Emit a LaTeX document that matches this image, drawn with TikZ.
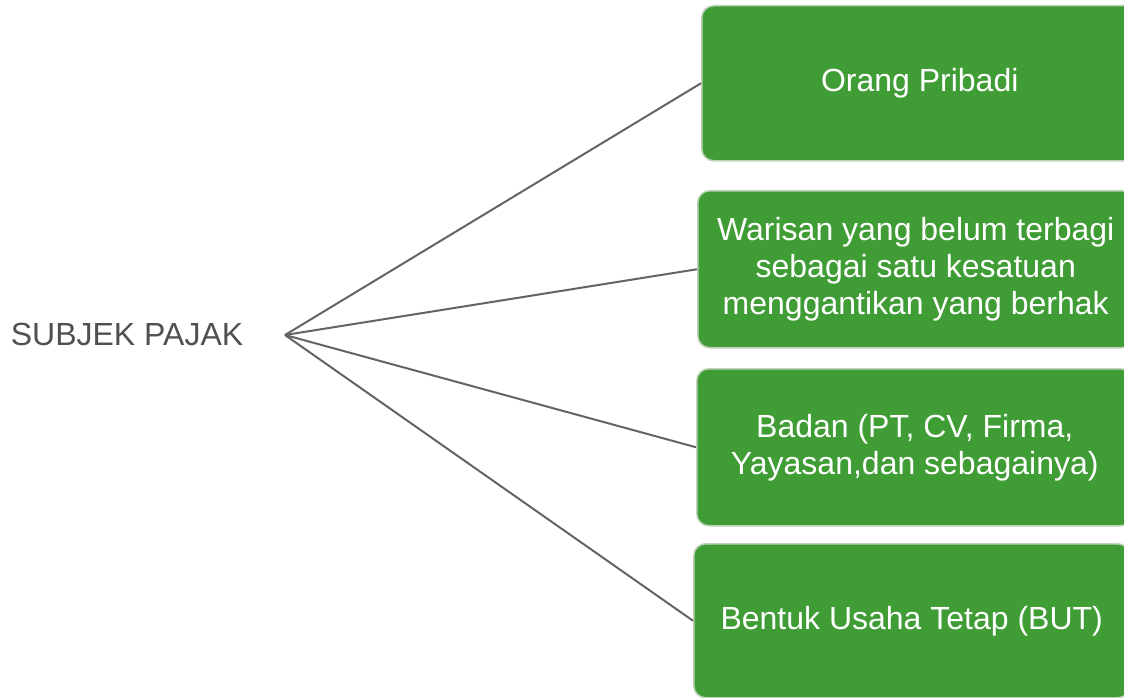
\documentclass[tikz,border=0pt]{standalone}
\usepackage{fontspec}
\setmainfont{Liberation Sans}
\definecolor{boxgreen}{RGB}{64,157,54}
\definecolor{boxedge}{RGB}{190,210,185}
\definecolor{linegray}{RGB}{100,100,100}
\definecolor{textgray}{RGB}{80,80,80}
\begin{document}
\begin{tikzpicture}[x=1pt,y=-1pt,
  item/.style={draw=boxedge, line width=1.5pt, fill=boxgreen, rounded corners=12pt,
    text=white, align=center, font=\fontsize{32}{37}\selectfont,
    minimum width=436pt, inner sep=0pt, anchor=north west},
  conn/.style={draw=linegray, line width=2pt}]
\useasboundingbox (0,0) rectangle (1124,698);
\clip (0,0) rectangle (1124,698);
\node[font=\fontsize{32}{37}\selectfont, text=textgray, inner sep=0pt] (title) at (127,334) {SUBJEK PAJAK};
\coordinate (hub) at (285,335);
\node[item, minimum height=155pt] (b1) at (701,5) {Orang Pribadi};
\node[item, minimum height=157pt] (b2) at (697,190) {Warisan yang belum terbagi\\sebagai satu kesatuan\\menggantikan yang berhak};
\node[item, minimum height=157pt] (b3) at (696,368) {Badan (PT, CV, Firma,\\Yayasan,dan sebagainya)};
\node[item, minimum height=154pt] (b4) at (693,543) {Bentuk Usaha Tetap (BUT)};
\draw[conn] (hub) -- (b1.west);
\draw[conn] (hub) -- (b2.west);
\draw[conn] (hub) -- (b3.west);
\draw[conn] (hub) -- (b4.west);
\end{tikzpicture}
\end{document}
